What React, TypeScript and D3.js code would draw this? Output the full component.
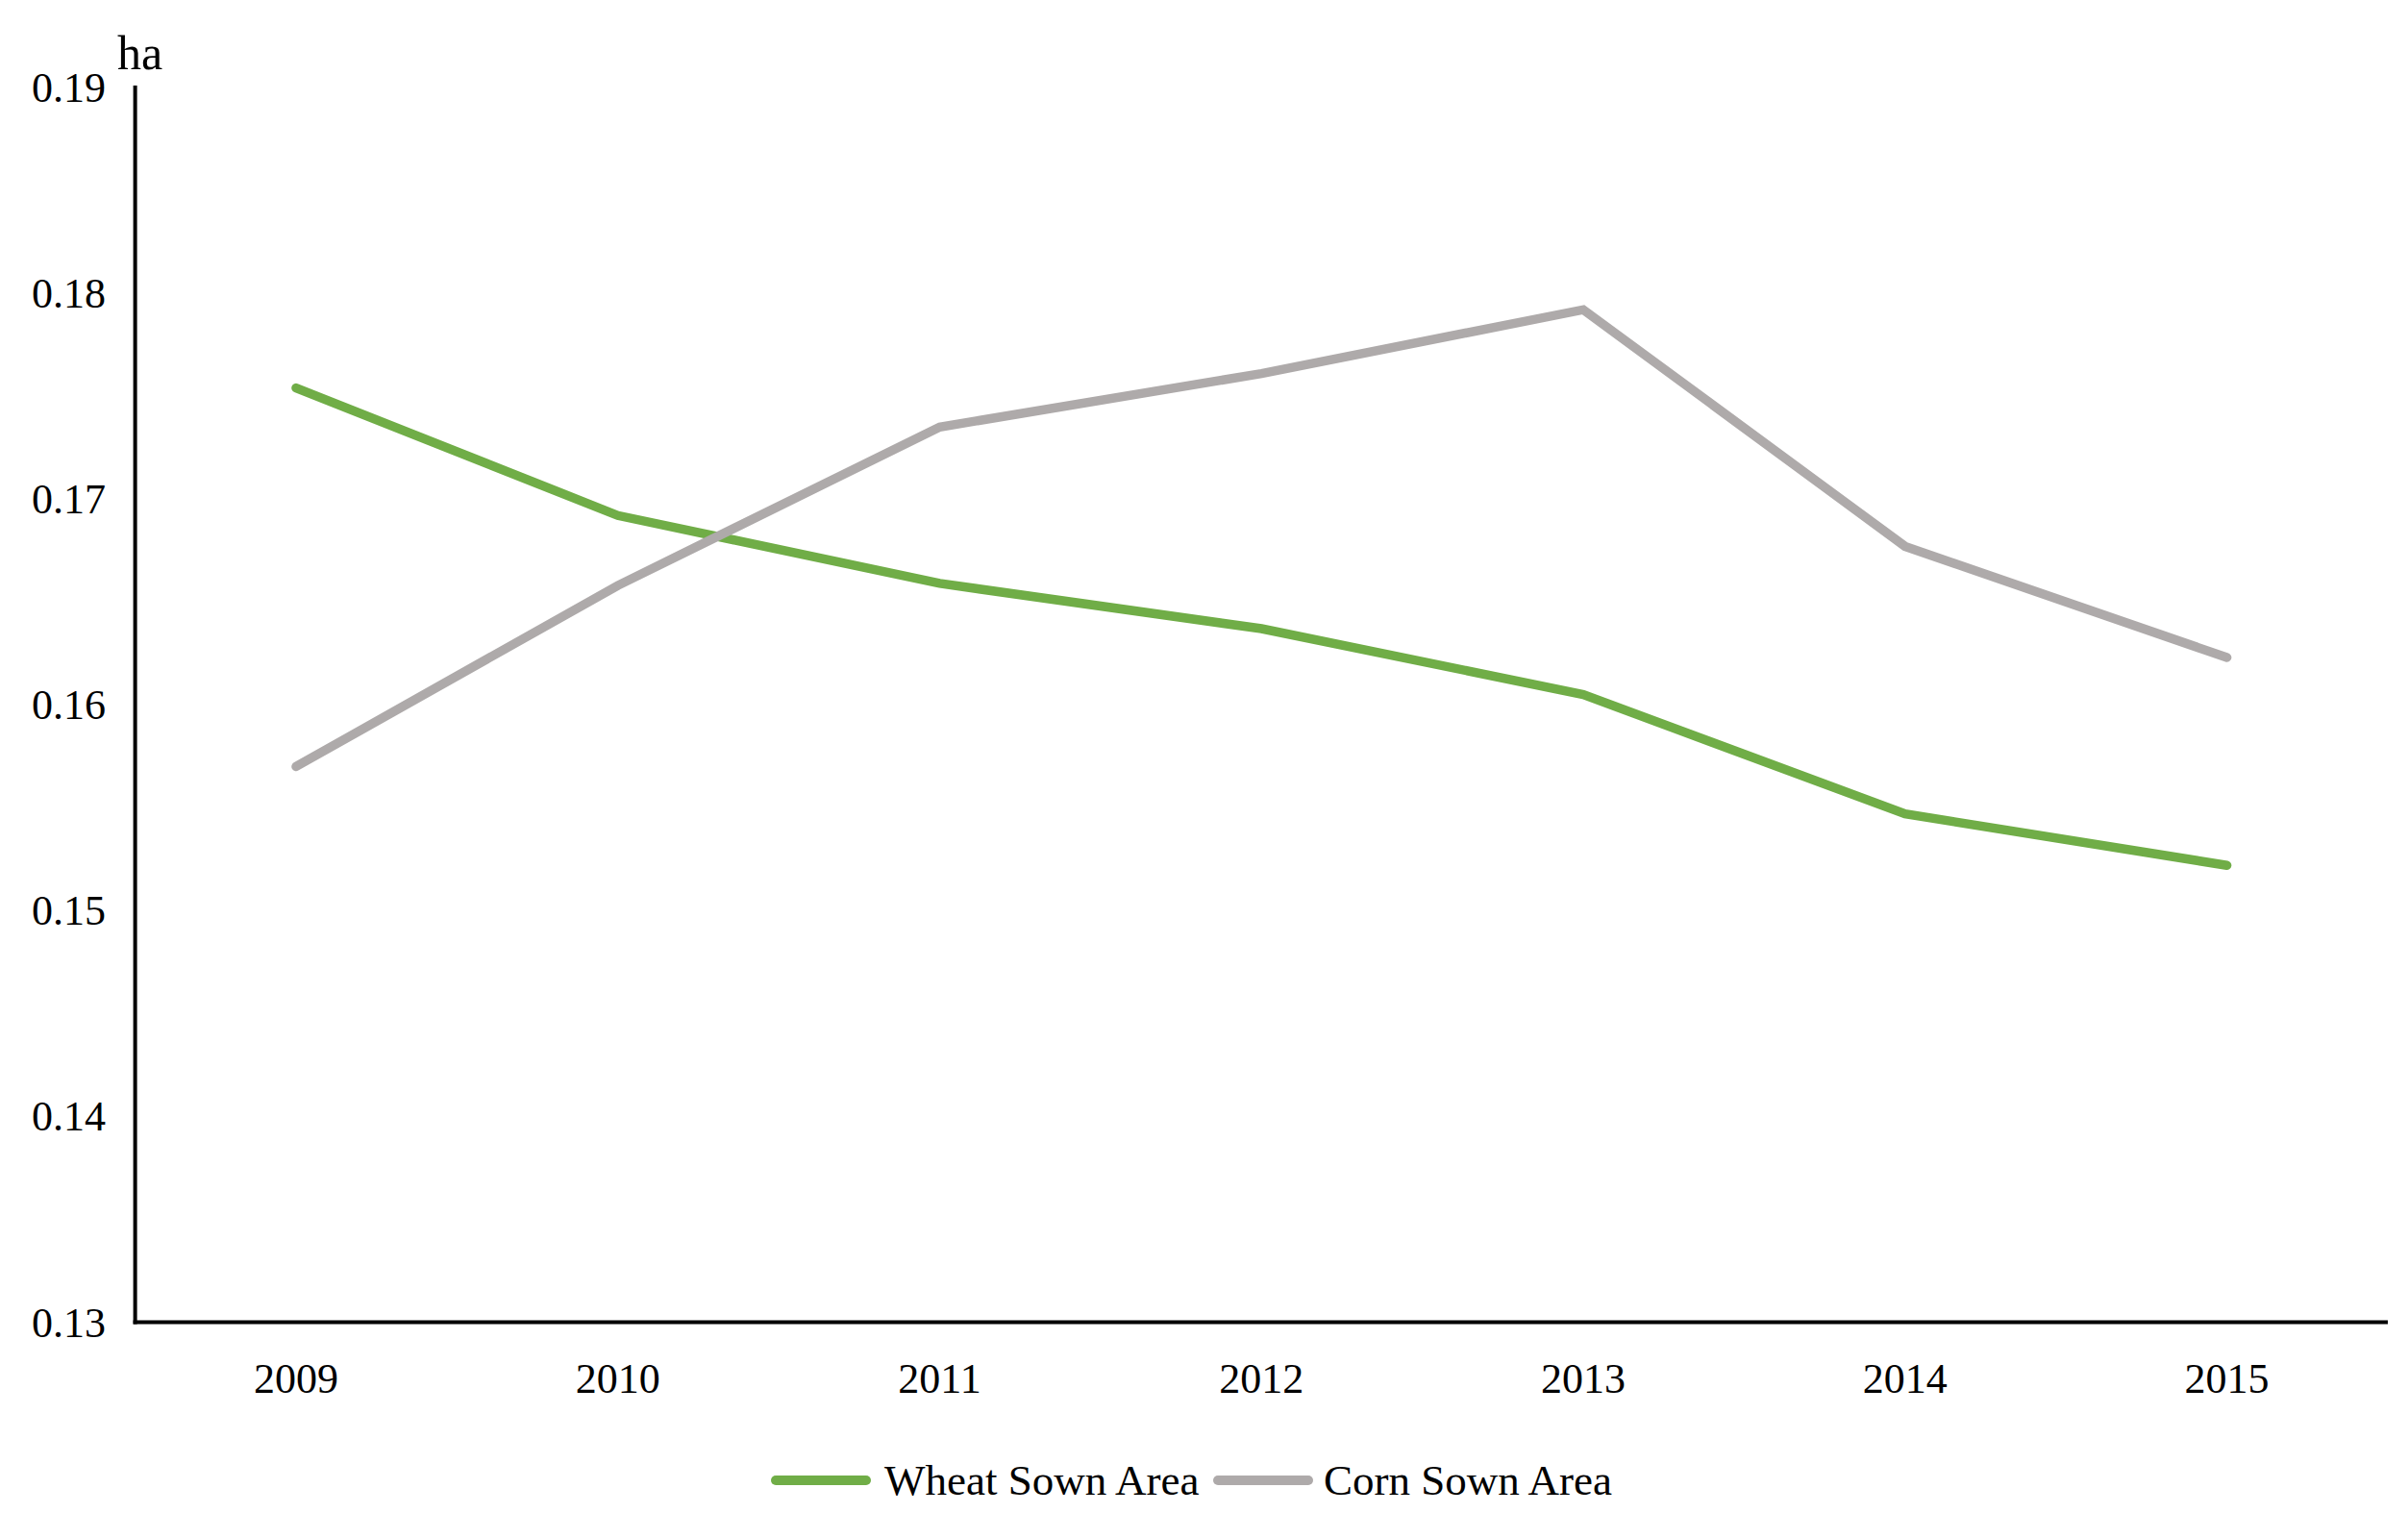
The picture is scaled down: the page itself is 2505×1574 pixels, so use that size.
import React from "react";
import * as d3 from "d3";

const years = ["2009", "2010", "2011", "2012", "2013", "2014", "2015"];
const wheat = [0.1754, 0.1692, 0.1659, 0.1637, 0.1605, 0.1547, 0.1522];
const corn = [0.157, 0.1658, 0.1735, 0.1761, 0.1792, 0.1677, 0.1623];
const yTicks = [0.13, 0.14, 0.15, 0.16, 0.17, 0.18, 0.19];
const seriesNames = ["Wheat Sown Area", "Corn Sown Area"];
const seriesColors = ["#70AD47", "#AEAAAA"];

const W = 2505;
const H = 1574;
const FONT = "'Liberation Serif', 'Times New Roman', serif";

export default function App() {
  const left = 140.6;
  const right = 2484;
  const top = 91;
  const bottom = 1375.5;

  const x = d3.scaleBand<string>().domain(years).range([left, right]);
  const y = d3.scaleLinear().domain([0.13, 0.19]).range([bottom, top]);
  const cx = (yr: string) => (x(yr) as number) + x.bandwidth() / 2;

  const line = d3
    .line<number>()
    .x((_, i) => cx(years[i]))
    .y((d) => y(d));

  const series = [wheat, corn];

  const legendItems = [
    { x1: 807, x2: 901, tx: 920 },
    { x1: 1267, x2: 1361, tx: 1377 },
  ];

  return (
    <svg
      width={W}
      height={H}
      style={{ position: "absolute", left: 0, top: 0, background: "#fff" }}
      fontFamily={FONT}
    >
      <rect x={0} y={0} width={W} height={H} fill="#fff" />
      {yTicks.map((t) => (
        <text key={t} x={110} y={y(t) + 15} fontSize={44} textAnchor="end" fill="#000">
          {d3.format(".2f")(t)}
        </text>
      ))}
      <text x={122} y={72} fontSize={50} fill="#000">
        ha
      </text>
      {years.map((yr) => (
        <text key={yr} x={cx(yr)} y={bottom + 73} fontSize={44} textAnchor="middle" fill="#000">
          {yr}
        </text>
      ))}
      {series.map((s, i) => (
        <path
          key={i}
          d={line(s) as string}
          fill="none"
          stroke={seriesColors[i]}
          strokeWidth={9.5}
          strokeLinejoin="miter"
          strokeLinecap="round"
        />
      ))}
      <line x1={left} x2={left} y1={top - 2} y2={bottom + 2} stroke="#000" strokeWidth={4} />
      <line x1={left - 2} x2={right} y1={bottom} y2={bottom} stroke="#000" strokeWidth={4} />
      {legendItems.map((it, i) => (
        <g key={i}>
          <line
            x1={it.x1}
            x2={it.x2}
            y1={1540}
            y2={1540}
            stroke={seriesColors[i]}
            strokeWidth={10}
            strokeLinecap="round"
          />
          <text x={it.tx} y={1555} fontSize={45} fill="#000">
            {seriesNames[i]}
          </text>
        </g>
      ))}
    </svg>
  );
}
